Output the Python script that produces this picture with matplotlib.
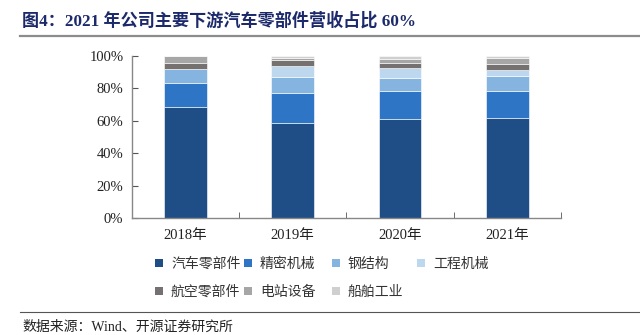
import matplotlib
matplotlib.use("Agg")
import matplotlib.pyplot as plt
import numpy as np
from matplotlib.patches import Patch
from matplotlib.ticker import FuncFormatter

# data (percent of revenue)
years = ['2018年', '2019年', '2020年', '2021年']
segments = ['汽车零部件', '精密机械', '钢结构', '工程机械', '航空零部件', '电站设备', '船舶工业']
auto_parts = [68.3, 59.0, 60.9, 61.5]
precision_mach = [15.1, 18.5, 17.6, 17.0]
steel_struct = [8.6, 9.4, 8.0, 9.0]
construction_mach = [0.0, 7.2, 6.4, 3.7]
aviation_parts = [3.5, 3.7, 2.6, 3.9]
power_equip = [4.2, 1.2, 2.5, 3.7]
shipbuilding = [0.3, 1.0, 2.0, 1.2]

colors = ['#1f4e87', '#2e75c6', '#85b4e0', '#bdd7ee', '#767171', '#a6a6a6', '#d0cece']
series = [auto_parts, precision_mach, steel_struct, construction_mach,
          aviation_parts, power_equip, shipbuilding]

SERIF = ['Liberation Serif', 'Noto Sans CJK SC']
CJK = ['Noto Sans CJK SC', 'DejaVu Sans']

fig = plt.figure(figsize=(6.4, 3.35), dpi=100)
ax = fig.add_axes([0.2058, 0.3484, 0.6708, 0.4844])

x = np.arange(len(years))
bottom = np.zeros(len(years))
for vals, c in zip(series, colors):
    v = np.array(vals) / 100.0
    ax.bar(x, v, width=0.4, bottom=bottom, color=c, edgecolor='white', linewidth=0.4)
    bottom += v

ax.set_xlim(-0.5, 3.5)
ax.set_ylim(0, 1)
ax.set_yticks(np.arange(0, 1.01, 0.2))
ax.yaxis.set_major_formatter(FuncFormatter(lambda v, p: f'{v*100:.0f}%'))
ax.set_xticks(x)
ax.set_xticklabels(years)
ax.set_xticks([0.5, 1.5, 2.5, 3.5], minor=True)
ax.tick_params(axis='x', which='major', length=0, pad=8)
ax.tick_params(axis='x', which='minor', direction='in', length=4, color='#555555')
ax.tick_params(axis='y', direction='in', length=4, color='#555555', pad=6)
for lab in ax.get_xticklabels() + ax.get_yticklabels():
    lab.set_fontfamily(SERIF)
    lab.set_fontsize(10.5)
    lab.set_color('#222222')

for s in ['top', 'right']:
    ax.spines[s].set_visible(False)
for s in ['left', 'bottom']:
    ax.spines[s].set_color('#888888')
    ax.spines[s].set_linewidth(1.0)

# legend: four columns, two rows
col_x = [155, 244, 332, 417]
for i, cx in enumerate(col_x):
    idx = [i, i + 4] if i + 4 < len(segments) else [i]
    handles = [Patch(facecolor=colors[k], edgecolor='none') for k in idx]
    labels = [segments[k] for k in idx]
    fig.legend(handles, labels, loc='upper left',
               bbox_to_anchor=(cx / 640, 1 - 257 / 335),
               frameon=False, borderpad=0, borderaxespad=0,
               handlelength=0.55, handleheight=0.55, handletextpad=0.6,
               labelspacing=1.0, prop={'family': CJK, 'size': 10},
               labelcolor='#333333')

# title and source
fig.text(22 / 640, 1 - 21 / 335, '图4：2021 年公司主要下游汽车零部件营收占比 60%',
         fontsize=12.3, fontweight='bold', color='#1c2a6b', family=SERIF,
         va='center', ha='left')
fig.add_artist(plt.Line2D([20 / 640, 1.0], [1 - 36 / 335] * 2, color='#8c8c8c', linewidth=1.6))
fig.add_artist(plt.Line2D([20 / 640, 1.0], [1 - 312 / 335] * 2, color='#555555', linewidth=0.8))
fig.text(22 / 640, 1 - 327 / 335, '数据来源：Wind、开源证券研究所',
         fontsize=10, color='#222222', family=SERIF, va='center', ha='left')

fig.savefig('out.png', dpi=100)
